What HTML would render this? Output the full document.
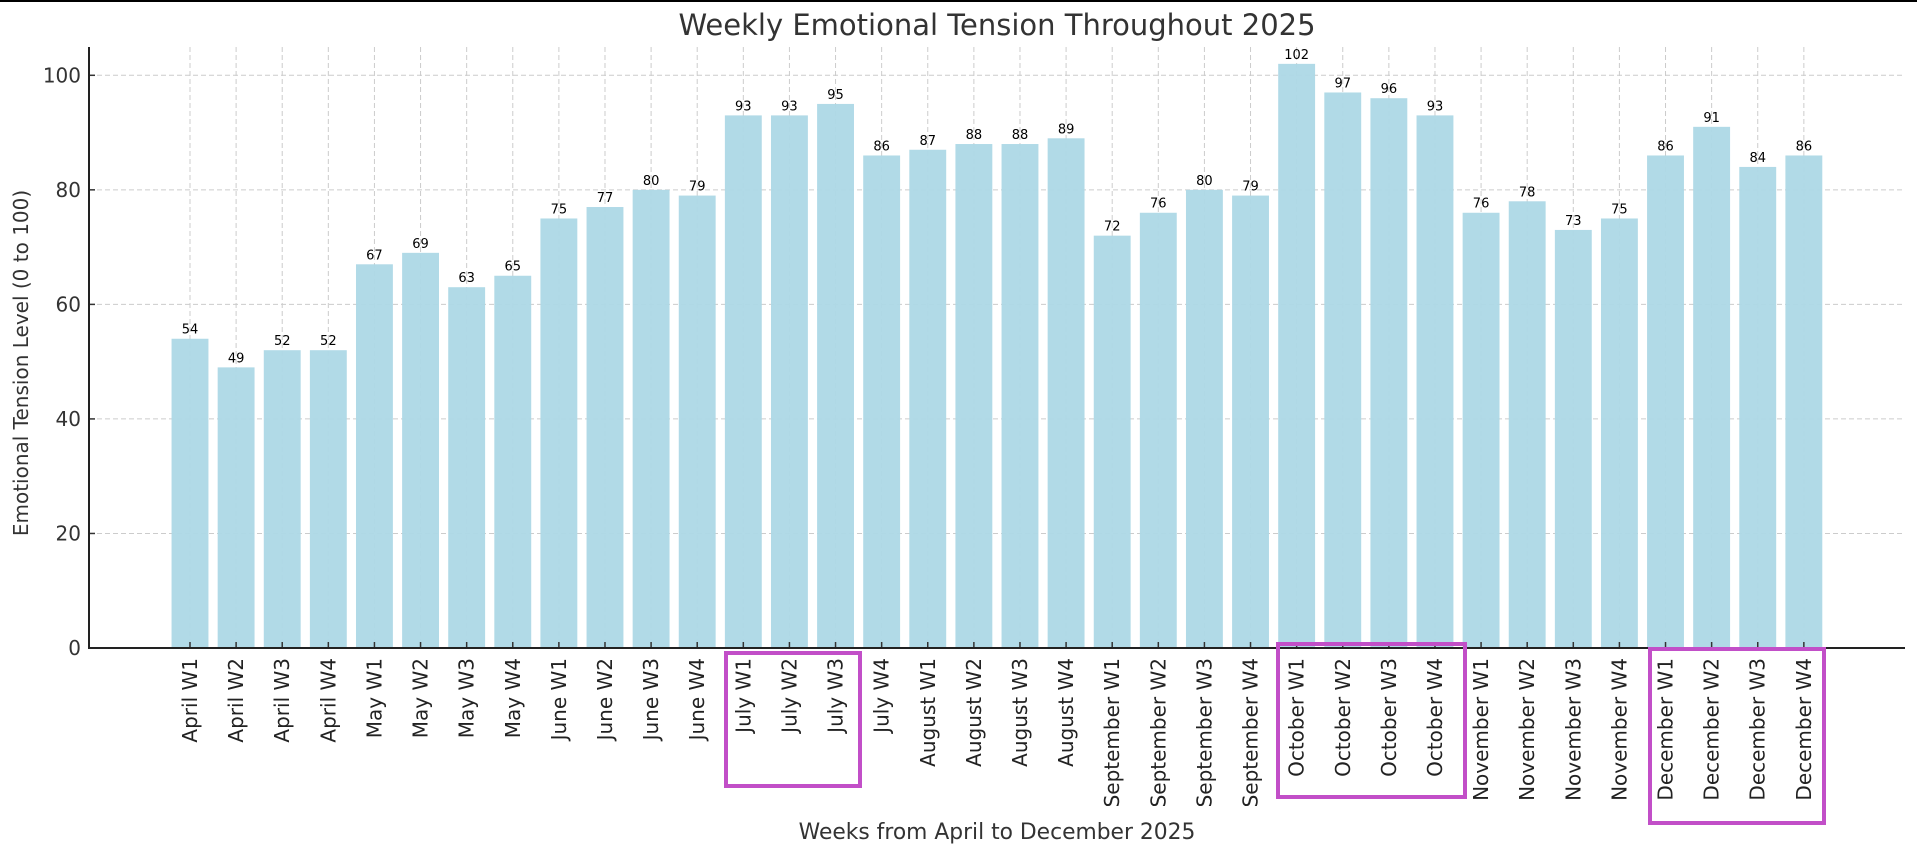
<!DOCTYPE html>
<html><head><meta charset="utf-8"><style>
html,body{margin:0;padding:0;background:#fff;}
svg{display:block;font-family:"DejaVu Sans","Liberation Sans",sans-serif;}
</style></head><body>
<svg id="chart" width="1917" height="856" viewBox="0 0 1917 856" xmlns="http://www.w3.org/2000/svg">
<rect x="0" y="0" width="1917" height="856" fill="#fff"/>
<line x1="0" y1="1" x2="1917" y2="1" stroke="#000" stroke-width="2"/>
<text x="997" y="35" text-anchor="middle" font-size="29" fill="#333">Weekly Emotional Tension Throughout 2025</text>
<g id="grid"></g>
<g id="bars"></g>
<g id="axes"></g>
<text x="997" y="839" text-anchor="middle" font-size="21.8" fill="#333">Weeks from April to December 2025</text>
<text transform="translate(28,363) rotate(-90)" text-anchor="middle" font-size="20" fill="#333">Emotional Tension Level (0 to 100)</text>
<g id="highlights"></g>
</svg>
<script>
const categories = ["April W1","April W2","April W3","April W4","May W1","May W2","May W3","May W4","June W1","June W2","June W3","June W4","July W1","July W2","July W3","July W4","August W1","August W2","August W3","August W4","September W1","September W2","September W3","September W4","October W1","October W2","October W3","October W4","November W1","November W2","November W3","November W4","December W1","December W2","December W3","December W4"];
const values = [54,49,52,52,67,69,63,65,75,77,80,79,93,93,95,86,87,88,88,89,72,76,80,79,102,97,96,93,76,78,73,75,86,91,84,86];
const yTicks = [0,20,40,60,80,100];
const highlightGroups = [[12,14],[24,27],[32,35]];

const NS="http://www.w3.org/2000/svg";
const X0=89, X1=1905, Y0=648, YTOP=47;
const step=46.11, first=190;
function xs(i){return first+i*step;}
function ys(v){return Y0-v*(Y0-75.3)/100;}
function mk(tag,attrs,parent){const e=document.createElementNS(NS,tag);for(const k in attrs)e.setAttribute(k,attrs[k]);parent.appendChild(e);return e;}
const grid=document.getElementById('grid'),bars=document.getElementById('bars'),axes=document.getElementById('axes'),hl=document.getElementById('highlights');
yTicks.forEach(t=>{
  if(t>0){const g=mk('line',{x1:X0,x2:X1,y1:ys(t),y2:ys(t),stroke:'#ccc','stroke-dasharray':'5,3','stroke-width':1},grid);
  
  }
  const tk=mk('line',{x1:X0,x2:X0+6,y1:ys(t),y2:ys(t),stroke:'#333','stroke-width':1.5},axes);
  
  
  const tx=mk('text',{x:X0-8,y:ys(t)+7,'text-anchor':'end','font-size':20,fill:'#333'},axes);
  tx.textContent=t;
  
  
});
const bw=step*0.8;
categories.forEach((c,i)=>{
  const x=xs(i);
  const gl=mk('line',{x1:x,x2:x,y1:YTOP,y2:Y0,stroke:'#ccc','stroke-dasharray':'5,3','stroke-width':1},grid);
  
  
  const r=mk('rect',{x:x-bw/2,y:ys(values[i]),width:bw,height:Y0-ys(values[i]),fill:'#add8e6','fill-opacity':0.95},bars);
  
  
  const vl=mk('text',{x:x,y:ys(values[i])-5,'text-anchor':'middle','font-size':13,fill:'#000'},bars);
  vl.textContent=values[i];
  
  
  const tk=mk('line',{x1:x,x2:x,y1:Y0,y2:Y0-6,stroke:'#333','stroke-width':1.5},axes);
  
  
  const tx=mk('text',{transform:`translate(${x+7},${Y0+10}) rotate(-90)`,'text-anchor':'end','font-size':20,fill:'#222'},axes);
  tx.textContent=c;
  
  
});
const la=mk('line',{x1:X0,x2:X0,y1:YTOP,y2:Y0+1,stroke:'#222','stroke-width':2},axes);


const ba=mk('line',{x1:X0-1,x2:X1,y1:Y0,y2:Y0,stroke:'#222','stroke-width':2},axes);


const boxes=[[726,653,860,786],[1278,644,1465,797],[1650,649,1824,823]];
boxes.forEach((b,k)=>{
  const r=mk('rect',{x:b[0],y:b[1],width:b[2]-b[0],height:b[3]-b[1],fill:'none',stroke:'#c24fc8','stroke-width':4},hl);
  
  
});
</script>
</body></html>
